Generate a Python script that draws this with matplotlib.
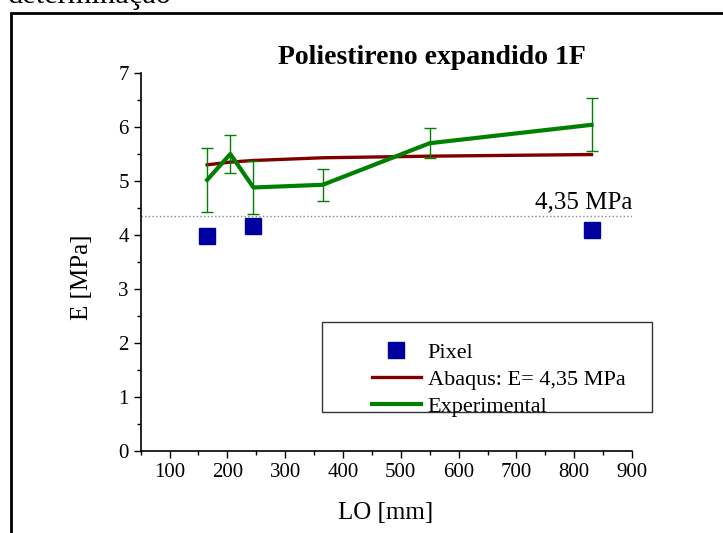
import matplotlib
matplotlib.use('Agg')
import matplotlib.pyplot as plt
from matplotlib.patches import Rectangle
from matplotlib.ticker import MultipleLocator

plt.rcParams['font.family'] = ['Liberation Serif', 'DejaVu Serif']

# data
lo_pixel = [165, 245, 830]
e_pixel = [3.99, 4.17, 4.09]

lo_abaqus = [165, 205, 245, 365, 550, 830]
e_abaqus = [5.30, 5.35, 5.38, 5.43, 5.46, 5.49]

lo_exp = [165, 205, 245, 365, 550, 830]
e_exp = [5.02, 5.50, 4.88, 4.93, 5.70, 6.04]
e_err = [0.59, 0.36, 0.49, 0.30, 0.28, 0.49]

e_ref = 4.35

W, H = 723, 533
fig = plt.figure(figsize=(W / 100, H / 100), dpi=100)
ax = fig.add_axes([140.7 / W, 1 - 451 / H, (632 - 140.7) / W, (451 - 73) / H])

ax.plot([50, 900], [e_ref, e_ref], ls=':', color='#888888', lw=1, zorder=1)
l_abq, = ax.plot(lo_abaqus, e_abaqus, color='#800000', lw=2.4, zorder=2)
ax.errorbar(lo_exp, e_exp, yerr=e_err, fmt='none', ecolor='#008000', elinewidth=1,
            capsize=4, capthick=1, zorder=3)
l_exp, = ax.plot(lo_exp, e_exp, color='#008000', lw=3, zorder=3)
l_pix, = ax.plot(lo_pixel, e_pixel, ls='none', marker='s', ms=11, color='#0000A0',
                 zorder=4)

ax.text(900, e_ref + 0.04, '4,35 MPa', ha='right', va='bottom', fontsize=18)

ax.set_xlim(50, 900)
ax.set_ylim(0, 7)
ax.xaxis.set_major_locator(MultipleLocator(100))
ax.xaxis.set_minor_locator(MultipleLocator(50))
ax.yaxis.set_major_locator(MultipleLocator(1))
ax.yaxis.set_minor_locator(MultipleLocator(0.5))
ax.set_xticks(range(100, 901, 100))
ax.tick_params(which='major', direction='out', length=5, width=1, labelsize=15)
ax.tick_params(which='minor', direction='out', length=3, width=1)
for s in ['top', 'right']:
    ax.spines[s].set_visible(False)
for s in ['left', 'bottom']:
    ax.spines[s].set_linewidth(1.2)

fig.text(82 / W, 1 - 277 / H, 'E [MPa]', rotation=90, ha='center', va='center', fontsize=18)
fig.text(386 / W, 1 - 513 / H, 'LO [mm]', ha='center', va='center', fontsize=18)
fig.text(432 / W, 1 - 57 / H, 'Poliestireno expandido 1F', ha='center', va='center',
         fontsize=20, fontweight='bold')

# text from the page above, cut off at the top edge as in the source
fig.text(8 / W, 1 - 3 / H, 'determinação', ha='left', va='baseline', fontsize=22)

# page frame
fig.add_artist(Rectangle((11 / W, -0.2), 1.5, 1.2 - 13 / H, transform=fig.transFigure,
                         fill=False, lw=2, edgecolor='black', clip_on=False))

# legend box
fig.add_artist(Rectangle((321.7 / W, 1 - 411.7 / H), 330 / W, 90 / H,
                         transform=fig.transFigure, fill=False, lw=1,
                         edgecolor='#333333'))
fig.legend([l_pix, l_abq, l_exp], ['Pixel', 'Abaqus: E= 4,35 MPa', 'Experimental'],
           loc='upper left', bbox_to_anchor=(372 / W, 1 - 342 / H), frameon=False,
           fontsize=16, borderpad=0, borderaxespad=0, handlelength=2.2,
           handletextpad=0.3, labelspacing=0.29)

fig.savefig('out.png', dpi=100)
